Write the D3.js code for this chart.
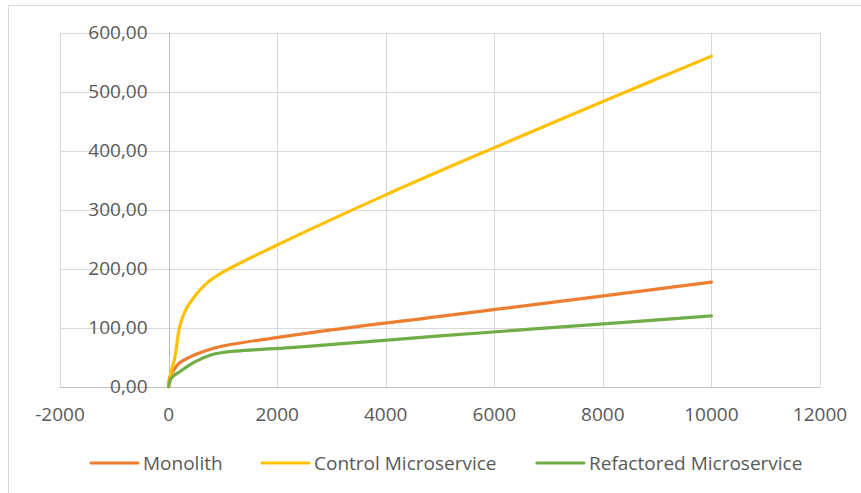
<!DOCTYPE html>
<html>
<head>
<meta charset="utf-8">
<script src="https://cdn.jsdelivr.net/npm/d3@7"></script>
<style>
  html, body { margin: 0; padding: 0; background: #fff; }
  svg { display: block; }
  text { font-family: "Open Sans", "Liberation Sans", sans-serif; fill: #595959; }
</style>
</head>
<body>
<svg id="chart" width="861" height="493"></svg>
<script>
// Response time per series, sampled by request count
const monolith = [
  [0, 0], [25, 17], [116, 31], [200, 40], [485, 54], [790, 64], [1000, 69],
  [2500, 90], [5000, 119], [7500, 148], [10000, 177]
];
const controlMicroservice = [
  [0, 0], [55, 28], [105, 45], [147, 68], [190, 96], [240, 113], [330, 133],
  [455, 150], [700, 175], [1000, 194], [2000, 240],
  [4000, 325], [6000, 405], [8000, 483], [10000, 560]
];
const refactoredMicroservice = [
  [0, 0], [55, 15], [200, 25], [485, 42], [790, 54], [1000, 58],
  [2500, 68], [5000, 86], [7500, 103], [10000, 120]
];

const seriesNames = ["Monolith", "Control Microservice", "Refactored Microservice"];
const seriesColors = ["#ED7D31", "#FFC000", "#70AD47"];
const seriesData = [monolith, controlMicroservice, refactoredMicroservice];

const xTicks = [-2000, 0, 2000, 4000, 6000, 8000, 10000, 12000];
const yTicks = [0, 100, 200, 300, 400, 500, 600];

const svg = d3.select("#chart");

// chart frame
svg.append("rect")
  .attr("x", 8.5).attr("y", 5.5)
  .attr("width", 900).attr("height", 600)
  .attr("fill", "none").attr("stroke", "#D9D9D9").attr("stroke-width", 1);

const x = d3.scaleLinear().domain([-2000, 12000]).range([60, 820]);
const y = d3.scaleLinear().domain([0, 600]).range([386.7, 32.5]);

const fmtY = d3.formatLocale({ decimal: ",", thousands: ".", grouping: [3], currency: ["", ""] }).format(".2f");

// gridlines
const grid = svg.append("g");
grid.selectAll("line.v").data(xTicks).join("line")
  .attr("x1", d => Math.round(x(d)) + 0.5).attr("x2", d => Math.round(x(d)) + 0.5)
  .attr("y1", y(600)).attr("y2", y(0))
  .attr("stroke", "#D9D9D9").attr("stroke-width", 1);
grid.selectAll("line.h").data(yTicks).join("line")
  .attr("x1", x(-2000)).attr("x2", x(12000))
  .attr("y1", d => Math.round(y(d)) + 0.5).attr("y2", d => Math.round(y(d)) + 0.5)
  .attr("stroke", "#D9D9D9").attr("stroke-width", 1);

// axes crossing at the origin
svg.append("line")
  .attr("x1", x(-2000)).attr("x2", x(12000))
  .attr("y1", Math.round(y(0)) + 0.5).attr("y2", Math.round(y(0)) + 0.5)
  .attr("stroke", "#BFBFBF").attr("stroke-width", 1);
svg.append("line")
  .attr("x1", Math.round(x(0)) + 0.5).attr("x2", Math.round(x(0)) + 0.5)
  .attr("y1", y(600)).attr("y2", y(0))
  .attr("stroke", "#BFBFBF").attr("stroke-width", 1);

// tick labels
svg.append("g").selectAll("text").data(yTicks).join("text")
  .attr("x", x(0) - 21).attr("y", d => y(d))
  .attr("dy", "0.35em")
  .attr("text-anchor", "end")
  .style("font-size", "19px")
  .text(d => fmtY(d));

svg.append("g").selectAll("text").data(xTicks).join("text")
  .attr("x", d => x(d)).attr("y", y(0) + 28)
  .attr("dy", "0.35em")
  .attr("text-anchor", "middle")
  .style("font-size", "19px")
  .text(d => String(d));

// series lines, smoothed
const line = d3.line()
  .x(d => x(d[0])).y(d => y(d[1]))
  .curve(d3.curveCatmullRom.alpha(0.5));

svg.append("g").selectAll("path").data(seriesData).join("path")
  .attr("d", d => line(d))
  .attr("fill", "none")
  .attr("stroke", (d, i) => seriesColors[i])
  .attr("stroke-width", 3.2)
  .attr("stroke-linecap", "round")
  .attr("stroke-linejoin", "round");

// legend
const legendX = [91, 262, 537];
const legend = svg.append("g").selectAll("g").data(seriesNames).join("g")
  .attr("transform", (d, i) => `translate(${legendX[i]},463)`);
legend.append("line")
  .attr("x1", 0).attr("x2", 47).attr("y1", 0).attr("y2", 0)
  .attr("stroke", (d, i) => seriesColors[i]).attr("stroke-width", 3.2)
  .attr("stroke-linecap", "round");
legend.append("text")
  .attr("x", 52).attr("y", 0).attr("dy", "0.35em")
  .style("font-size", "19px")
  .text(d => d);
</script>
</body>
</html>
